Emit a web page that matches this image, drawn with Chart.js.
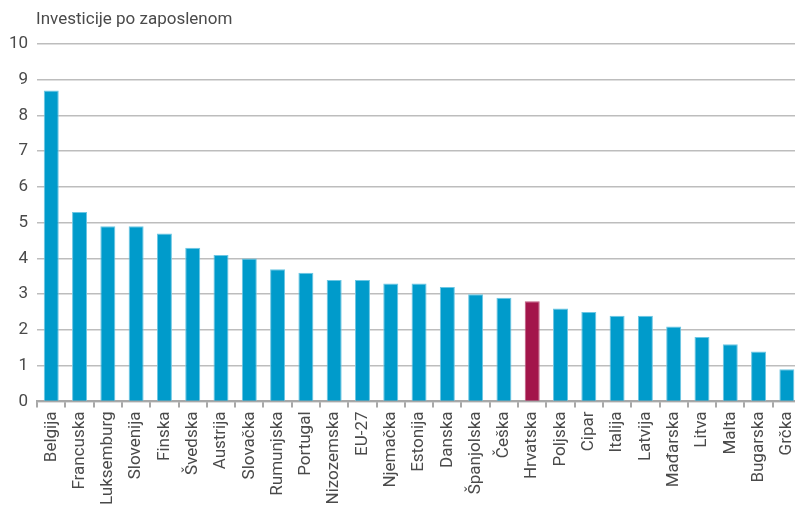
<!DOCTYPE html>
<html>
<head>
<meta charset="utf-8">
<script src="https://cdn.jsdelivr.net/npm/chart.js@4"></script>
<style>
  html, body { margin: 0; background: #fff; overflow: hidden; }
  /* the original plot runs a few pixels past the right edge of the picture */
  #wrap { width: 801px; height: 515px; position: relative; }
</style>
</head>
<body>
<div id="wrap"><canvas id="investChart"></canvas></div>
<script>
const countries = ["Belgija", "Francuska", "Luksemburg", "Slovenija", "Finska", "Švedska", "Austrija", "Slovačka", "Rumunjska", "Portugal", "Nizozemska", "EU-27", "Njemačka", "Estonija", "Danska", "Španjolska", "Češka", "Hrvatska", "Poljska", "Cipar", "Italija", "Latvija", "Mađarska", "Litva", "Malta", "Bugarska", "Grčka"];
const values = [8.7, 5.3, 4.9, 4.9, 4.7, 4.3, 4.1, 4.0, 3.7, 3.6, 3.4, 3.4, 3.3, 3.3, 3.2, 3.0, 2.9, 2.8, 2.6, 2.5, 2.4, 2.4, 2.1, 1.8, 1.6, 1.4, 0.9];
const highlight = "Hrvatska";
const yTicks = [0, 1, 2, 3, 4, 5, 6, 7, 8, 9, 10];
const chartTitle = 'Investicije po zaposlenom';

// title sits above the plot, lined up with the start of the gridlines
const axisTitle = {
    id: 'axisTitle',
    afterDraw(chart) {
        const c = chart.ctx;
        c.save();
        c.font = '17px Roboto';
        c.fillStyle = '#4a4a4a';
        c.textBaseline = 'alphabetic';
        c.fillText(chartTitle, chart.chartArea.left - 1, 24);
        c.restore();
    }
};

document.addEventListener('DOMContentLoaded', function() {
    const fill = countries.map(c => c === highlight ? '#a3154b' : '#009bcb');
    const edge = countries.map(c => c === highlight ? '#c05a80' : '#6cc6e3');

    const ctx = document.getElementById('investChart').getContext('2d');
    new Chart(ctx, {
        type: 'bar',
        data: {
            labels: countries,
            datasets: [{
                label: chartTitle,
                data: values,
                backgroundColor: fill,
                borderColor: edge,
                borderWidth: 1,
                borderSkipped: 'bottom',
                barPercentage: 0.53,
                categoryPercentage: 1
            }]
        },
        options: {
            responsive: true,
            maintainAspectRatio: false,
            animation: false,
            layout: { padding: { left: 0, right: 0, top: 44, bottom: 6 } },
            plugins: {
                legend: { display: false },
                tooltip: { enabled: false },
                title: { display: false }
            },
            scales: {
                x: {
                    afterFit: axis => { axis.paddingLeft = 0; axis.paddingRight = 0; },
                    grid: {
                        offset: true,
                        drawOnChartArea: false,
                        drawTicks: true,
                        tickLength: 6,
                        color: '#a8a8a8',
                        lineWidth: 2
                    },
                    border: { color: '#a8a8a8', width: 2 },
                    ticks: {
                        minRotation: 90,
                        maxRotation: 90,
                        autoSkip: false,
                        color: '#4a4a4a',
                        padding: 4,
                        font: { family: 'Roboto', size: 17 }
                    }
                },
                y: {
                    min: 0,
                    max: 10,
                    afterBuildTicks: axis => { axis.ticks = yTicks.map(v => ({ value: v })); },
                    grid: {
                        color: '#bdbdbd',
                        lineWidth: 1.5,
                        drawTicks: false
                    },
                    border: { display: false },
                    ticks: {
                        color: '#4a4a4a',
                        padding: 9,
                        font: { family: 'Roboto', size: 17 }
                    }
                }
            }
        },
        plugins: [axisTitle]
    });
});
</script>
</body>
</html>
